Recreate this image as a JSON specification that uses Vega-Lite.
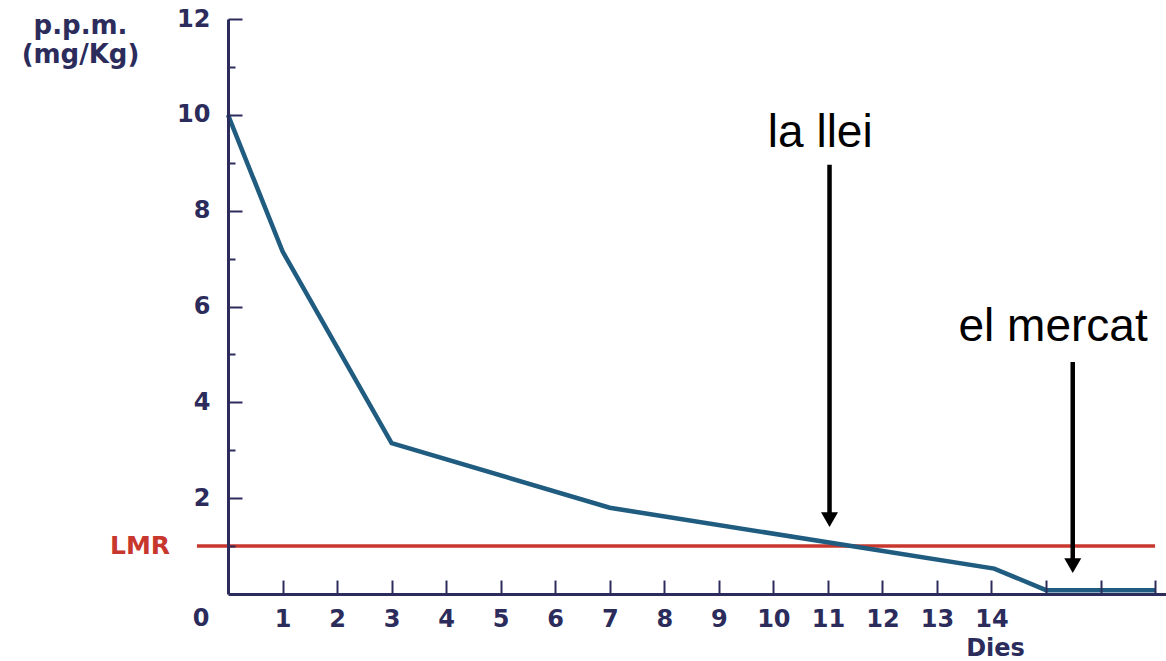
{
  "$schema": "https://vega.github.io/schema/vega-lite/v6.json",
  "width": 938,
  "height": 575,
  "autosize": "none",
  "padding": {"left": 228, "top": 19, "right": 0, "bottom": 67},
  "background": "white",
  "config": {
    "view": {"stroke": null},
    "axis": {
      "domainColor": "#2c2c5c",
      "tickColor": "#2c2c5c",
      "labelColor": "#2c2c5c",
      "titleColor": "#2c2c5c",
      "labelFont": "DejaVu Sans",
      "labelFontWeight": "bold",
      "titleFont": "DejaVu Sans",
      "titleFontWeight": "bold",
      "grid": false
    }
  },
  "datasets": {
    "curve": [
      {"day": 0, "ppm": 10},
      {"day": 1, "ppm": 7.15},
      {"day": 3, "ppm": 3.15},
      {"day": 7, "ppm": 1.8},
      {"day": 14.05, "ppm": 0.53},
      {"day": 15, "ppm": 0.08},
      {"day": 17, "ppm": 0.08}
    ],
    "lmr": [{"from": -0.57, "to": 17, "level": 1, "label": "LMR"}],
    "arrows": [
      {"x": 11.03, "top": 8.96, "tip": 1.553, "tx": 10.86, "ty": 9.33, "label": "la llei"},
      {"x": 15.49, "top": 4.84, "tip": 0.593, "tx": 15.13, "ty": 5.27, "label": "el mercat"}
    ],
    "origin": [{"day": 0, "ppm": 0, "label": "0"}]
  },
  "resolve": {"axis": {"y": "independent"}},
  "layer": [
    {
      "data": {"name": "lmr"},
      "mark": {"type": "rule", "color": "#c8372d", "strokeWidth": 3.5},
      "encoding": {
        "x": {
          "field": "from", "type": "quantitative",
          "scale": {"domain": [0, 17.2], "nice": false},
          "axis": {
            "values": [1, 2, 3, 4, 5, 6, 7, 8, 9, 10, 11, 12, 13, 14, 15, 16, 17],
            "tickSize": -14,
            "tickWidth": 2,
            "domainWidth": 3,
            "labelExpr": "datum.value <= 14 ? datum.label : ''",
            "labelBaseline": "alphabetic",
            "labelPadding": 46,
            "labelFontSize": 24,
            "labelFlush": false,
            "labelOverlap": false,
            "title": "Dies",
            "titleX": 767,
            "titleY": 61,
            "titleAlign": "center",
            "titleBaseline": "alphabetic",
            "titleFontSize": 24,
            "zindex": 1
          }
        },
        "x2": {"field": "to"},
        "y": {
          "field": "level", "type": "quantitative",
          "scale": {"domain": [0, 12], "nice": false},
          "axis": {
            "orient": "left",
            "values": [2, 4, 6, 8, 10, 12],
            "tickSize": -14,
            "tickWidth": 2,
            "domainWidth": 3,
            "labelPadding": 32,
            "labelFontSize": 24,
            "labelOverlap": false,
            "title": ["p.p.m.", "(mg/Kg)"],
            "titleAngle": 0,
            "titleAlign": "center",
            "titleBaseline": "alphabetic",
            "titleX": -148,
            "titleY": 14,
            "titleFontSize": 26,
            "titleLineHeight": 29,
            "zindex": 1
          }
        }
      }
    },
    {
      "data": {"name": "lmr"},
      "mark": {"type": "text", "font": "DejaVu Sans", "fontWeight": "bold", "fontSize": 25, "color": "#c8372d", "align": "center", "baseline": "alphabetic", "dx": -88, "dy": 8},
      "encoding": {
        "x": {"datum": 0, "type": "quantitative"},
        "y": {
          "field": "level", "type": "quantitative",
          "axis": {
            "orient": "left",
            "values": [1, 3, 5, 7, 9, 11],
            "tickSize": -7,
            "tickWidth": 2,
            "domain": false,
            "labels": false,
            "title": null,
            "zindex": 1
          }
        },
        "text": {"field": "label"}
      }
    },
    {
      "data": {"name": "curve"},
      "mark": {"type": "line", "color": "#1f5c80", "strokeWidth": 4.5},
      "encoding": {
        "x": {"field": "day", "type": "quantitative"},
        "y": {"field": "ppm", "type": "quantitative", "axis": null}
      }
    },
    {
      "data": {"name": "arrows"},
      "mark": {"type": "rule", "color": "black", "strokeWidth": 4.5},
      "encoding": {
        "x": {"field": "x", "type": "quantitative"},
        "y": {"field": "top", "type": "quantitative", "axis": null},
        "y2": {"field": "tip"}
      }
    },
    {
      "data": {"name": "arrows"},
      "mark": {"type": "point", "shape": "triangle-down", "size": 289, "filled": true, "color": "black", "opacity": 1},
      "encoding": {
        "x": {"field": "x", "type": "quantitative"},
        "y": {"field": "tip", "type": "quantitative", "axis": null}
      }
    },
    {
      "data": {"name": "arrows"},
      "mark": {"type": "text", "font": "Liberation Sans", "fontSize": 46, "color": "black", "align": "center", "baseline": "alphabetic"},
      "encoding": {
        "x": {"field": "tx", "type": "quantitative"},
        "y": {"field": "ty", "type": "quantitative", "axis": null},
        "text": {"field": "label"}
      }
    },
    {
      "data": {"name": "origin"},
      "mark": {"type": "text", "font": "DejaVu Sans", "fontWeight": "bold", "fontSize": 24, "color": "#2c2c5c", "align": "center", "baseline": "alphabetic", "dx": -27, "dy": 32},
      "encoding": {
        "x": {"field": "day", "type": "quantitative"},
        "y": {"field": "ppm", "type": "quantitative", "axis": null},
        "text": {"field": "label"}
      }
    }
  ]
}
